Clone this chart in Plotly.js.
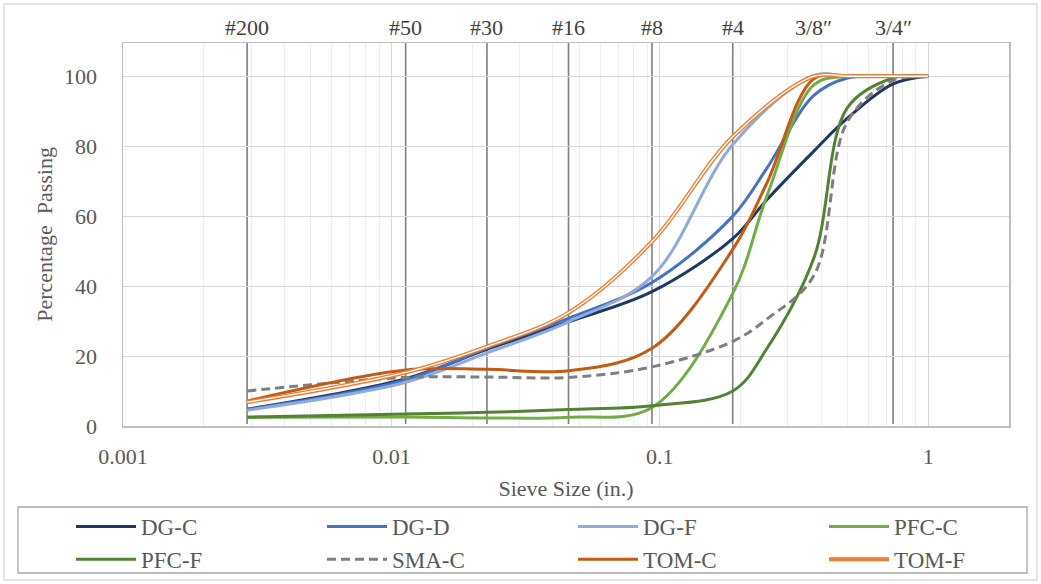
<!DOCTYPE html>
<html>
<head>
<meta charset="utf-8">
<script src="https://cdn.plot.ly/plotly-3.0.1.min.js"></script>
<style>html,body{margin:0;padding:0;background:#fff;}#chart{width:1041px;height:584px;}</style>
</head>
<body>
<div id="chart"></div>
<script>
// ---- data ----
const sieveSizes = [0.0029, 0.0113, 0.0227, 0.0457, 0.0935, 0.187, 0.25, 0.375, 0.5, 0.74, 1.0];
const seriesNames = ['DG-C', 'DG-D', 'DG-F', 'PFC-C', 'PFC-F', 'SMA-C', 'TOM-C', 'TOM-F'];
const dgC  = [4.8, 13.5, 21.9, 29.8, 38.4, 53.6, 64.6, 78.6, 88.0, 97.8, 100];
const dgD  = [4.8, 13.2, 22.3, 30.8, 41.0, 60.0, 73.6, 94.5, 99.5, 100, 100];
const dgF  = [4.5, 12.5, 20.9, 29.8, 42.7, 80.5, null, 100.2, 100, 100, 100];
const pfcC = [2.5, 2.6, 2.3, 2.5, 5.3, 37.9, 65.5, 97.5, 100, 100, 100];
const pfcF = [2.5, 3.4, 3.9, 4.7, 5.8, 10.0, 22.0, 48.0, 91.0, 99.5, 100];
const smaC = [10.0, 13.9, 14.0, 13.9, 16.9, 24.2, 30.5, 43.0, 87.0, 98.8, 100];
const tomC = [7.1, 16.0, 16.2, 15.8, 22.2, 50.5, 69.3, 99.3, 100, 100, 100];
const tomF = [6.8, 15.3, 22.7, 32.4, 52.7, 82.7, null, 100, 100, 100, 100];

const sieveLabels = ['#200', '#50', '#30', '#16', '#8', '#4', '3/8\u2033', '3/4\u2033'];
const sieveLabelX = [0.0029, 0.0113, 0.0227, 0.0457, 0.0935, 0.187, 0.375, 0.74];
const sieveLineX  = [0.0029, 0.0113, 0.0227, 0.0457, 0.0935, 0.187, 0.74];

const xTickVals = [0.001, 0.01, 0.1, 1];
const xTickText = ['0.001', '0.01', '0.1', '1'];

// ---- styling ----
const FONT = 'Liberation Serif, Times New Roman, serif';
const TXT = '#595959';
const W = 1041, H = 584;
const L = 123, R = 1009, T = 43, B = 426;
const px2x = p => (p - L) / (R - L);
const py2y = p => (B - p) / (B - T);

const styles = [
  {color: '#203864', width: 3},
  {color: '#4472C4', width: 3},
  {color: '#8FAADC', width: 3},
  {color: '#70AD47', width: 3},
  {color: '#548235', width: 3},
  {color: '#7F7F7F', width: 3, dash: '9px,5px'},
  {color: '#C55A11', width: 3},
  {color: '#ED7D31', width: 4}
];
const values = [dgC, dgD, dgF, pfcC, pfcF, smaC, tomC, tomF];

const traces = values.map((v, i) => ({
  type: 'scatter', mode: 'lines', name: seriesNames[i],
  x: sieveSizes, y: v, connectgaps: true,
  line: Object.assign({shape: 'spline', smoothing: 1}, styles[i]),
  hoverinfo: 'x+y+name'
}));
// white centre of the TOM-F double line
traces.push({
  type: 'scatter', mode: 'lines', x: sieveSizes, y: tomF, showlegend: false, connectgaps: true,
  line: {color: '#ffffff', width: 1.3, shape: 'spline', smoothing: 1}, hoverinfo: 'skip'
});

const shapes = sieveLineX.map(x => ({
  type: 'line', xref: 'x', yref: 'paper', x0: x, x1: x, y0: 0.005, y1: 1,
  line: {color: '#7f7f7f', width: 1.6}, layer: 'below'
}));
// outer chart border
shapes.push({type: 'rect', xref: 'paper', yref: 'paper',
  x0: px2x(4), x1: px2x(1037), y0: py2y(580), y1: py2y(4),
  line: {color: '#d9d9d9', width: 1.3}, layer: 'below'});
// legend border
shapes.push({type: 'rect', xref: 'paper', yref: 'paper',
  x0: px2x(18), x1: px2x(1027), y0: py2y(573), y1: py2y(507),
  line: {color: '#a6a6a6', width: 1.3}, layer: 'below'});

const annotations = sieveLabels.map((t, i) => ({
  text: t, x: Math.log10(sieveLabelX[i]), xref: 'x', y: 1, yref: 'paper',
  yanchor: 'bottom', yshift: 1, showarrow: false,
  font: {family: FONT, size: 22, color: '#404040'}
}));

const layout = {
  width: W, height: H,
  margin: {l: L, r: W - R, t: T, b: H - B, autoexpand: false},
  paper_bgcolor: '#fff', plot_bgcolor: '#fff',
  showlegend: true,
  font: {family: FONT, color: TXT},
  xaxis: {
    type: 'log', range: [Math.log10(0.001), Math.log10(2)],
    tickvals: xTickVals, ticktext: xTickText,
    showgrid: true, gridcolor: '#d9d9d9', gridwidth: 1,
    minor: {dtick: 'D1', showgrid: true, gridcolor: '#eeeeee', gridwidth: 1, ticks: ''},
    showline: true, linecolor: '#bfbfbf', linewidth: 1.5, mirror: true,
    ticks: '', ticklabelstandoff: 10,
    tickfont: {family: FONT, size: 22, color: TXT},
    zeroline: false, automargin: false,
    title: {text: 'Sieve Size (in.)', font: {family: FONT, size: 22, color: TXT}, standoff: 12}
  },
  yaxis: {
    range: [0, 109.5], dtick: 20, tick0: 0,
    showgrid: true, gridcolor: '#d9d9d9', gridwidth: 1,
    showline: true, linecolor: '#bfbfbf', linewidth: 1.5, mirror: true,
    ticks: '', ticklabelstandoff: 20,
    tickfont: {family: FONT, size: 22, color: TXT},
    zeroline: false, automargin: false,
    title: {text: 'Percentage  Passing', font: {family: FONT, size: 22, color: TXT}, standoff: 5}
  },
  legend: {
    orientation: 'h', xref: 'paper', yref: 'paper',
    x: px2x(71), xanchor: 'left', y: py2y(505), yanchor: 'top',
    entrywidth: 176, entrywidthmode: 'pixels',
    font: {family: FONT, size: 23, color: TXT},
    bgcolor: 'rgba(0,0,0,0)', borderwidth: 0,
    traceorder: 'normal', itemwidth: 60
  },
  shapes: shapes,
  annotations: annotations
};

Plotly.newPlot('chart', traces, layout, {displayModeBar: false, staticPlot: true});
</script>
</body>
</html>
